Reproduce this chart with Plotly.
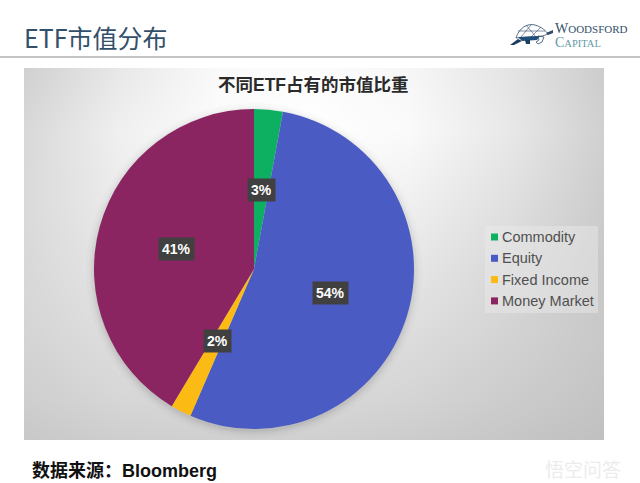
import math
import plotly.graph_objects as go

categories = ["Commodity", "Equity", "Fixed Income", "Money Market"]
values = [2.9, 53.6, 2.1, 41.4]
colors = ["#0DB060", "#4B5BC4", "#FBBA14", "#8B2562"]

page_title = "ETF市值分布"
chart_title = "不同ETF占有的市值比重"
source_text = "数据来源：Bloomberg"
watermark = "悟空问答"

bg_x = [24, 120, 220, 314, 410, 510, 604]
bg_y = [68, 130, 200, 270, 340, 400, 440]
bg_z = [
    [208, 232, 250, 252, 246, 228, 204],
    [216, 240, 252, 255, 250, 232, 208],
    [218, 236, 244, 246, 240, 224, 204],
    [216, 230, 236, 236, 230, 216, 200],
    [212, 222, 226, 226, 220, 210, 200],
    [206, 214, 216, 216, 212, 204, 196],
    [200, 206, 208, 208, 204, 198, 192],
]
shadow_extra = [8, 5, 3, 1]
shadow_alpha = [0.015, 0.02, 0.03, 0.04]

PX_W, PX_H = 640, 483
CX, CY, R = 254, 269, 160

fig = go.Figure()
# keeps the page-pixel axes alive for shapes and annotations
fig.add_trace(go.Scatter(x=[], y=[], xaxis="x", yaxis="y", showlegend=False))
fig.add_trace(go.Heatmap(x=bg_x, y=bg_y, z=bg_z, xaxis="x2", yaxis="y2", zsmooth="best", showscale=False,
                         hoverinfo="skip", zmin=0, zmax=255, colorscale=[[0, "#000000"], [1, "#ffffff"]]))
for extra, alpha in zip(shadow_extra, shadow_alpha):
    fig.add_trace(go.Scatter(x=[CX], y=[CY + 2], xaxis="x2", yaxis="y2", mode="markers", showlegend=False, hoverinfo="skip",
                             marker=dict(size=2 * (R + extra), color=f"rgba(0,0,0,{alpha})", line=dict(width=0))))
fig.add_trace(go.Pie(labels=categories, values=values, sort=False, direction="clockwise", rotation=0,
                     marker=dict(colors=colors, line=dict(width=0)), textinfo="none", hoverinfo="label+percent",
                     showlegend=False,
                     domain=dict(x=[(CX - R) / PX_W, (CX + R) / PX_W], y=[1 - (CY + R) / PX_H, 1 - (CY - R) / PX_H])))

shapes = [
    dict(type="line", xref="x", yref="y", x0=0, x1=640, y0=57, y1=57, line=dict(color="#8a8a8a", width=1), layer="above"),
    dict(type="rect", xref="x", yref="y", x0=485, x1=598, y0=226, y1=313, fillcolor="rgba(235,235,235,0.45)", line=dict(width=0), layer="above"),
]

# turtle logo (rough outline)
INK = "#2e4b6b"
shapes += [
    dict(type="path", xref="x", yref="y", path="M 516 38 C 519 28 527 23 535 25 C 542 27 546 31 548 34 C 544 36 538 37 530 37 Z",
         fillcolor="rgba(255,255,255,0)", line=dict(color=INK, width=0.8), layer="above"),
    dict(type="path", xref="x", yref="y", path="M 518 37 L 540 36 L 537 40 L 522 41 Z", fillcolor="#1f4f7a", line=dict(width=0), layer="above"),
    dict(type="path", xref="x", yref="y", path="M 510 45 L 518 39 L 522 41 L 514 45 Z", fillcolor="#1f3d63", line=dict(width=0), layer="above"),
    dict(type="path", xref="x", yref="y", path="M 525 40 L 530 40 L 530 44 L 526 44 Z", fillcolor="#1f3d63", line=dict(width=0), layer="above"),
    dict(type="path", xref="x", yref="y", path="M 538 36 L 544 37 L 542 42 L 538 44 L 536 42 L 539 40 Z", fillcolor="rgba(255,255,255,0)", line=dict(color=INK, width=0.8), layer="above"),
    dict(type="path", xref="x", yref="y", path="M 546 33 L 553 30 L 553 33 L 548 35 Z", fillcolor=INK, line=dict(width=0), layer="above"),
    dict(type="line", xref="x", yref="y", x0=521, x1=531, y0=37, y1=25, line=dict(color=INK, width=0.6), layer="above"),
    dict(type="line", xref="x", yref="y", x0=531, x1=541, y0=37, y1=27, line=dict(color=INK, width=0.6), layer="above"),
    dict(type="line", xref="x", yref="y", x0=526, x1=536, y0=25, y1=37, line=dict(color=INK, width=0.6), layer="above"),
    dict(type="line", xref="x", yref="y", x0=518, x1=545, y0=31, y1=31, line=dict(color=INK, width=0.6), layer="above"),
]

ann = []
CJK = "Liberation Sans, Noto Sans CJK SC"
ann.append(dict(x=22, y=37, text=page_title, xanchor="left", font=dict(size=25, color="#33506b", family="Noto Sans CJK SC")))
ann.append(dict(x=313, y=85, text=f"<b>{chart_title}</b>", font=dict(size=17.5, color="#2a2a2a", family=CJK)))
ann.append(dict(x=30, y=471, text=f"<b>{source_text}</b>", xanchor="left", font=dict(size=18, color="#111111", family=CJK)))
ann.append(dict(x=583, y=470, text=watermark, font=dict(size=19, color="#ececec", family=CJK)))
ann.append(dict(x=553, y=28, text='<span style="font-size:14px">W</span>OODSFORD', xanchor="left", font=dict(size=11, color="#33506b", family="Liberation Serif")))
ann.append(dict(x=553, y=42, text='<span style="font-size:14px">C</span>APITAL', xanchor="left", font=dict(size=10.5, color="#5f9aa8", family="Liberation Serif")))

# value labels placed from the data
total = sum(values)
cum = 0
for c, v in zip(categories, values):
    mid = (cum + v / 2) / total * 2 * math.pi
    cum += v
    ann.append(dict(x=CX + 0.5 * R * math.sin(mid), y=CY - 0.5 * R * math.cos(mid) + 1, text=f"<b>{v:.0f}%</b>",
                    bgcolor="#404040", borderpad=3,
                    font=dict(size=14, color="#ffffff", family="Liberation Sans")))

# legend
for i, (c, col) in enumerate(zip(categories, colors)):
    y = 237 + i * 21.3
    shapes.append(dict(type="rect", xref="x", yref="y", x0=491, x1=498, y0=y - 3.5, y1=y + 3.5, fillcolor=col, line=dict(width=0), layer="above"))
    ann.append(dict(x=500, y=y, text=c, xanchor="left", font=dict(size=14.5, color="#505050", family="Liberation Sans")))

for a in ann:
    a.update(xref="x", yref="y", showarrow=False)

fig.update_layout(
    width=PX_W, height=PX_H, margin=dict(l=0, r=0, t=0, b=0), paper_bgcolor="#ffffff", plot_bgcolor="rgba(0,0,0,0)",
    xaxis=dict(range=[0, PX_W], visible=False, fixedrange=True),
    yaxis=dict(range=[PX_H, 0], visible=False, fixedrange=True),
    xaxis2=dict(domain=[24 / PX_W, 604 / PX_W], range=[bg_x[0], bg_x[-1]], visible=False, fixedrange=True, anchor="y2"),
    yaxis2=dict(domain=[1 - 440 / PX_H, 1 - 68 / PX_H], range=[bg_y[-1], bg_y[0]], visible=False, fixedrange=True, anchor="x2"),
    shapes=shapes, annotations=ann,
)
fig.write_html("out.html", config=dict(displayModeBar=False),
               post_script="document.body.style.margin='0';document.documentElement.style.overflow='hidden';")
